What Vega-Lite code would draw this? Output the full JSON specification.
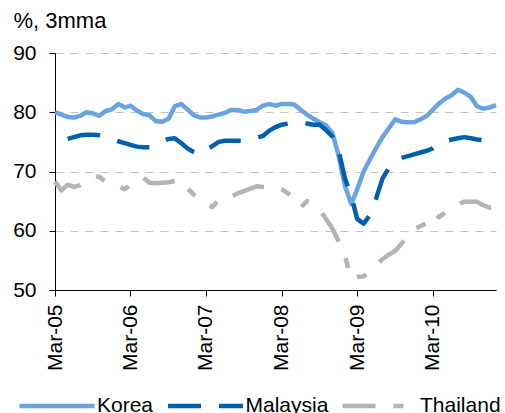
{
"$schema": "https://vega.github.io/schema/vega-lite/v6.json",
"width": 441, "height": 237,
"autosize": {"type": "none"},
"padding": {"left": 55, "top": 53, "right": 9, "bottom": 123},
"background": "white",
"config": {"view": {"stroke": null}, "font": "Liberation Sans"},
"data": {"values": [
{"d":"2005-03-01T00:00:00","c":"Korea","v":80.0},{"d":"2005-04-01T00:00:00","c":"Korea","v":79.6},{"d":"2005-05-01T00:00:00","c":"Korea","v":79.2},{"d":"2005-06-01T00:00:00","c":"Korea","v":79.1},{"d":"2005-07-01T00:00:00","c":"Korea","v":79.4},{"d":"2005-08-01T00:00:00","c":"Korea","v":80.0},{"d":"2005-09-01T00:00:00","c":"Korea","v":79.8},{"d":"2005-10-01T00:00:00","c":"Korea","v":79.4},{"d":"2005-11-01T00:00:00","c":"Korea","v":80.2},{"d":"2005-12-01T00:00:00","c":"Korea","v":80.5},
{"d":"2006-01-01T00:00:00","c":"Korea","v":81.4},{"d":"2006-02-01T00:00:00","c":"Korea","v":80.8},{"d":"2006-03-01T00:00:00","c":"Korea","v":81.1},{"d":"2006-04-01T00:00:00","c":"Korea","v":80.3},{"d":"2006-05-01T00:00:00","c":"Korea","v":79.7},{"d":"2006-06-01T00:00:00","c":"Korea","v":79.5},{"d":"2006-07-01T00:00:00","c":"Korea","v":78.5},{"d":"2006-08-01T00:00:00","c":"Korea","v":78.4},{"d":"2006-09-01T00:00:00","c":"Korea","v":78.9},{"d":"2006-10-01T00:00:00","c":"Korea","v":81.0},{"d":"2006-11-01T00:00:00","c":"Korea","v":81.4},{"d":"2006-12-01T00:00:00","c":"Korea","v":80.5},
{"d":"2007-01-01T00:00:00","c":"Korea","v":79.5},{"d":"2007-02-01T00:00:00","c":"Korea","v":79.1},{"d":"2007-03-01T00:00:00","c":"Korea","v":79.1},{"d":"2007-04-01T00:00:00","c":"Korea","v":79.3},{"d":"2007-05-01T00:00:00","c":"Korea","v":79.6},{"d":"2007-06-01T00:00:00","c":"Korea","v":79.9},{"d":"2007-07-01T00:00:00","c":"Korea","v":80.4},{"d":"2007-08-01T00:00:00","c":"Korea","v":80.4},{"d":"2007-09-01T00:00:00","c":"Korea","v":80.1},{"d":"2007-10-01T00:00:00","c":"Korea","v":80.2},{"d":"2007-11-01T00:00:00","c":"Korea","v":80.4},{"d":"2007-12-01T00:00:00","c":"Korea","v":81.1},
{"d":"2008-01-01T00:00:00","c":"Korea","v":81.4},{"d":"2008-02-01T00:00:00","c":"Korea","v":81.1},{"d":"2008-03-01T00:00:00","c":"Korea","v":81.4},{"d":"2008-04-01T00:00:00","c":"Korea","v":81.4},{"d":"2008-05-01T00:00:00","c":"Korea","v":81.3},{"d":"2008-06-01T00:00:00","c":"Korea","v":80.4},{"d":"2008-07-01T00:00:00","c":"Korea","v":79.6},{"d":"2008-08-01T00:00:00","c":"Korea","v":78.9},{"d":"2008-09-01T00:00:00","c":"Korea","v":78.3},{"d":"2008-10-01T00:00:00","c":"Korea","v":77.8},{"d":"2008-11-01T00:00:00","c":"Korea","v":76.5},{"d":"2008-12-01T00:00:00","c":"Korea","v":72.7},
{"d":"2009-01-01T00:00:00","c":"Korea","v":67.5},{"d":"2009-02-01T00:00:00","c":"Korea","v":64.5},{"d":"2009-03-01T00:00:00","c":"Korea","v":67.0},{"d":"2009-04-01T00:00:00","c":"Korea","v":70.0},{"d":"2009-05-01T00:00:00","c":"Korea","v":72.0},{"d":"2009-06-01T00:00:00","c":"Korea","v":74.0},{"d":"2009-07-01T00:00:00","c":"Korea","v":75.8},{"d":"2009-08-01T00:00:00","c":"Korea","v":77.3},{"d":"2009-09-01T00:00:00","c":"Korea","v":78.8},{"d":"2009-10-01T00:00:00","c":"Korea","v":78.4},{"d":"2009-11-01T00:00:00","c":"Korea","v":78.3},{"d":"2009-12-01T00:00:00","c":"Korea","v":78.3},
{"d":"2010-01-01T00:00:00","c":"Korea","v":78.8},{"d":"2010-02-01T00:00:00","c":"Korea","v":79.4},{"d":"2010-03-01T00:00:00","c":"Korea","v":80.4},{"d":"2010-04-01T00:00:00","c":"Korea","v":81.5},{"d":"2010-05-01T00:00:00","c":"Korea","v":82.3},{"d":"2010-06-01T00:00:00","c":"Korea","v":82.9},{"d":"2010-07-01T00:00:00","c":"Korea","v":83.8},{"d":"2010-08-01T00:00:00","c":"Korea","v":83.3},{"d":"2010-09-01T00:00:00","c":"Korea","v":82.6},{"d":"2010-10-01T00:00:00","c":"Korea","v":81.0},{"d":"2010-11-01T00:00:00","c":"Korea","v":80.6},{"d":"2010-12-01T00:00:00","c":"Korea","v":80.8},{"d":"2011-01-01T00:00:00","c":"Korea","v":81.2},

{"d":"2005-05-01T00:00:00","c":"Malaysia","v":75.5},{"d":"2005-06-01T00:00:00","c":"Malaysia","v":75.8},{"d":"2005-07-01T00:00:00","c":"Malaysia","v":76.1},{"d":"2005-08-01T00:00:00","c":"Malaysia","v":76.2},{"d":"2005-09-01T00:00:00","c":"Malaysia","v":76.2},{"d":"2005-10-01T00:00:00","c":"Malaysia","v":76.1},{"d":"2005-11-01T00:00:00","c":"Malaysia","v":75.8},{"d":"2005-12-01T00:00:00","c":"Malaysia","v":75.4},
{"d":"2006-01-01T00:00:00","c":"Malaysia","v":75.1},{"d":"2006-02-01T00:00:00","c":"Malaysia","v":74.8},{"d":"2006-03-01T00:00:00","c":"Malaysia","v":74.5},{"d":"2006-04-01T00:00:00","c":"Malaysia","v":74.2},{"d":"2006-05-01T00:00:00","c":"Malaysia","v":74.1},{"d":"2006-06-01T00:00:00","c":"Malaysia","v":74.1},{"d":"2006-07-01T00:00:00","c":"Malaysia","v":74.5},{"d":"2006-08-01T00:00:00","c":"Malaysia","v":75.1},{"d":"2006-09-01T00:00:00","c":"Malaysia","v":75.5},{"d":"2006-10-01T00:00:00","c":"Malaysia","v":75.6},{"d":"2006-11-01T00:00:00","c":"Malaysia","v":74.8},{"d":"2006-12-01T00:00:00","c":"Malaysia","v":73.9},
{"d":"2007-01-01T00:00:00","c":"Malaysia","v":73.3},{"d":"2007-02-01T00:00:00","c":"Malaysia","v":72.9},{"d":"2007-03-01T00:00:00","c":"Malaysia","v":73.6},{"d":"2007-04-01T00:00:00","c":"Malaysia","v":74.3},{"d":"2007-05-01T00:00:00","c":"Malaysia","v":75.0},{"d":"2007-06-01T00:00:00","c":"Malaysia","v":75.2},{"d":"2007-07-01T00:00:00","c":"Malaysia","v":75.2},{"d":"2007-08-01T00:00:00","c":"Malaysia","v":75.2},{"d":"2007-09-01T00:00:00","c":"Malaysia","v":75.2},{"d":"2007-10-01T00:00:00","c":"Malaysia","v":75.3},{"d":"2007-11-01T00:00:00","c":"Malaysia","v":75.7},{"d":"2007-12-01T00:00:00","c":"Malaysia","v":76.0},
{"d":"2008-01-01T00:00:00","c":"Malaysia","v":76.9},{"d":"2008-02-01T00:00:00","c":"Malaysia","v":77.5},{"d":"2008-03-01T00:00:00","c":"Malaysia","v":77.9},{"d":"2008-04-01T00:00:00","c":"Malaysia","v":78.1},{"d":"2008-05-01T00:00:00","c":"Malaysia","v":78.3},{"d":"2008-06-01T00:00:00","c":"Malaysia","v":78.3},{"d":"2008-07-01T00:00:00","c":"Malaysia","v":78.1},{"d":"2008-08-01T00:00:00","c":"Malaysia","v":77.9},{"d":"2008-09-01T00:00:00","c":"Malaysia","v":77.9},{"d":"2008-10-01T00:00:00","c":"Malaysia","v":77.0},{"d":"2008-11-01T00:00:00","c":"Malaysia","v":75.9},{"d":"2008-12-01T00:00:00","c":"Malaysia","v":73.5},
{"d":"2009-01-01T00:00:00","c":"Malaysia","v":68.8},{"d":"2009-02-01T00:00:00","c":"Malaysia","v":65.8},{"d":"2009-03-01T00:00:00","c":"Malaysia","v":62.0},{"d":"2009-04-01T00:00:00","c":"Malaysia","v":61.2},{"d":"2009-05-01T00:00:00","c":"Malaysia","v":62.6},{"d":"2009-06-01T00:00:00","c":"Malaysia","v":65.5},{"d":"2009-07-01T00:00:00","c":"Malaysia","v":68.8},{"d":"2009-08-01T00:00:00","c":"Malaysia","v":70.6},{"d":"2009-09-01T00:00:00","c":"Malaysia","v":71.6},{"d":"2009-10-01T00:00:00","c":"Malaysia","v":72.3},{"d":"2009-11-01T00:00:00","c":"Malaysia","v":72.6},{"d":"2009-12-01T00:00:00","c":"Malaysia","v":72.9},
{"d":"2010-01-01T00:00:00","c":"Malaysia","v":73.2},{"d":"2010-02-01T00:00:00","c":"Malaysia","v":73.5},{"d":"2010-03-01T00:00:00","c":"Malaysia","v":73.9},{"d":"2010-04-01T00:00:00","c":"Malaysia","v":74.7},{"d":"2010-05-01T00:00:00","c":"Malaysia","v":75.1},{"d":"2010-06-01T00:00:00","c":"Malaysia","v":75.4},{"d":"2010-07-01T00:00:00","c":"Malaysia","v":75.6},{"d":"2010-08-01T00:00:00","c":"Malaysia","v":75.8},{"d":"2010-09-01T00:00:00","c":"Malaysia","v":75.6},{"d":"2010-10-01T00:00:00","c":"Malaysia","v":75.4},{"d":"2010-11-01T00:00:00","c":"Malaysia","v":75.3},{"d":"2010-12-01T00:00:00","c":"Malaysia","v":75.3},

{"d":"2005-03-01T00:00:00","c":"Thailand","v":68.3},{"d":"2005-04-01T00:00:00","c":"Thailand","v":66.8},{"d":"2005-05-01T00:00:00","c":"Thailand","v":67.8},{"d":"2005-06-01T00:00:00","c":"Thailand","v":67.4},{"d":"2005-07-01T00:00:00","c":"Thailand","v":67.7},{"d":"2005-08-01T00:00:00","c":"Thailand","v":68.6},{"d":"2005-09-01T00:00:00","c":"Thailand","v":69.1},{"d":"2005-10-01T00:00:00","c":"Thailand","v":69.1},{"d":"2005-11-01T00:00:00","c":"Thailand","v":68.2},{"d":"2005-12-01T00:00:00","c":"Thailand","v":67.6},
{"d":"2006-01-01T00:00:00","c":"Thailand","v":67.6},{"d":"2006-02-01T00:00:00","c":"Thailand","v":67.0},{"d":"2006-03-01T00:00:00","c":"Thailand","v":67.8},{"d":"2006-04-01T00:00:00","c":"Thailand","v":68.0},{"d":"2006-05-01T00:00:00","c":"Thailand","v":69.0},{"d":"2006-06-01T00:00:00","c":"Thailand","v":68.1},{"d":"2006-07-01T00:00:00","c":"Thailand","v":68.0},{"d":"2006-08-01T00:00:00","c":"Thailand","v":68.1},{"d":"2006-09-01T00:00:00","c":"Thailand","v":68.2},{"d":"2006-10-01T00:00:00","c":"Thailand","v":68.4},{"d":"2006-11-01T00:00:00","c":"Thailand","v":68.6},{"d":"2006-12-01T00:00:00","c":"Thailand","v":67.2},
{"d":"2007-01-01T00:00:00","c":"Thailand","v":66.1},{"d":"2007-02-01T00:00:00","c":"Thailand","v":64.9},{"d":"2007-03-01T00:00:00","c":"Thailand","v":64.6},{"d":"2007-04-01T00:00:00","c":"Thailand","v":64.0},{"d":"2007-05-01T00:00:00","c":"Thailand","v":65.2},{"d":"2007-06-01T00:00:00","c":"Thailand","v":65.1},{"d":"2007-07-01T00:00:00","c":"Thailand","v":65.8},{"d":"2007-08-01T00:00:00","c":"Thailand","v":66.3},{"d":"2007-09-01T00:00:00","c":"Thailand","v":66.7},{"d":"2007-10-01T00:00:00","c":"Thailand","v":67.1},{"d":"2007-11-01T00:00:00","c":"Thailand","v":67.5},{"d":"2007-12-01T00:00:00","c":"Thailand","v":67.4},
{"d":"2008-01-01T00:00:00","c":"Thailand","v":67.3},{"d":"2008-02-01T00:00:00","c":"Thailand","v":67.0},{"d":"2008-03-01T00:00:00","c":"Thailand","v":67.0},{"d":"2008-04-01T00:00:00","c":"Thailand","v":66.3},{"d":"2008-05-01T00:00:00","c":"Thailand","v":65.4},{"d":"2008-06-01T00:00:00","c":"Thailand","v":63.9},{"d":"2008-07-01T00:00:00","c":"Thailand","v":65.0},{"d":"2008-08-01T00:00:00","c":"Thailand","v":64.7},{"d":"2008-09-01T00:00:00","c":"Thailand","v":63.5},{"d":"2008-10-01T00:00:00","c":"Thailand","v":62.0},{"d":"2008-11-01T00:00:00","c":"Thailand","v":60.4},{"d":"2008-12-01T00:00:00","c":"Thailand","v":58.2},
{"d":"2009-01-01T00:00:00","c":"Thailand","v":55.7},{"d":"2009-02-01T00:00:00","c":"Thailand","v":51.8},{"d":"2009-03-01T00:00:00","c":"Thailand","v":52.2},{"d":"2009-04-01T00:00:00","c":"Thailand","v":52.3},{"d":"2009-05-01T00:00:00","c":"Thailand","v":53.0},{"d":"2009-06-01T00:00:00","c":"Thailand","v":54.2},{"d":"2009-07-01T00:00:00","c":"Thailand","v":55.2},{"d":"2009-08-01T00:00:00","c":"Thailand","v":56.0},{"d":"2009-09-01T00:00:00","c":"Thailand","v":56.6},{"d":"2009-10-01T00:00:00","c":"Thailand","v":57.8},{"d":"2009-11-01T00:00:00","c":"Thailand","v":59.3},{"d":"2009-12-01T00:00:00","c":"Thailand","v":60.3},
{"d":"2010-01-01T00:00:00","c":"Thailand","v":60.8},{"d":"2010-02-01T00:00:00","c":"Thailand","v":61.3},{"d":"2010-03-01T00:00:00","c":"Thailand","v":63.0},{"d":"2010-04-01T00:00:00","c":"Thailand","v":62.3},{"d":"2010-05-01T00:00:00","c":"Thailand","v":63.1},{"d":"2010-06-01T00:00:00","c":"Thailand","v":64.0},{"d":"2010-07-01T00:00:00","c":"Thailand","v":64.5},{"d":"2010-08-01T00:00:00","c":"Thailand","v":64.9},{"d":"2010-09-01T00:00:00","c":"Thailand","v":64.9},{"d":"2010-10-01T00:00:00","c":"Thailand","v":64.9},{"d":"2010-11-01T00:00:00","c":"Thailand","v":64.3},{"d":"2010-12-01T00:00:00","c":"Thailand","v":63.9},{"d":"2011-01-01T00:00:00","c":"Thailand","v":64.1}
]},
"mark": {"type": "line", "strokeWidth": 4.5, "strokeCap": "butt", "strokeJoin": "round"},
"encoding": {
"x": {"field": "d", "type": "temporal",
 "scale": {"domain": [{"year": 2005, "month": 3, "date": 1}, {"year": 2011, "month": 1, "date": 1}]},
 "axis": {"values": [{"year": 2005, "month": 3, "date": 1}, {"year": 2006, "month": 3, "date": 1}, {"year": 2007, "month": 3, "date": 1}, {"year": 2008, "month": 3, "date": 1}, {"year": 2009, "month": 3, "date": 1}, {"year": 2010, "month": 3, "date": 1}],
  "format": "%b-%y", "labelAngle": -90, "labelAlign": "right", "labelBaseline": "middle", "labelFontSize": 21, "labelFont": "Liberation Sans", "labelColor": "black", "labelPadding": 8, "labelFlush": false, "labelOverlap": false, "tickSize": 6, "tickColor": "black", "domainColor": "black", "grid": false, "title": null}},
"y": {"field": "v", "type": "quantitative",
 "scale": {"domain": [50, 90], "nice": false, "zero": false},
 "axis": {"values": [50, 60, 70, 80, 90], "grid": true, "gridColor": "#C4C4C4", "gridDash": [8, 7], "gridWidth": 1,
  "tickSize": 6, "tickColor": "black", "domainColor": "black", "labelFontSize": 21, "labelFont": "Liberation Sans", "labelColor": "black", "labelPadding": 13,
  "title": "%, 3mma", "titleAngle": 0, "titleX": -42, "titleY": -26, "titleAlign": "left", "titleBaseline": "alphabetic", "titleFontSize": 22, "titleFontWeight": "normal", "titleColor": "black", "titleFont": "Liberation Sans"}},
"color": {"field": "c", "type": "nominal",
 "scale": {"domain": ["Korea", "Malaysia", "Thailand"], "range": ["#68A4E3", "#0060B0", "#B4B4B4"]},
 "legend": {"orient": "none", "legendX": -38, "legendY": 313, "direction": "horizontal", "gridAlign": "each", "title": null, "symbolType": "stroke", "symbolSize": 5625, "symbolStrokeWidth": 4.5, "labelFontSize": 21, "labelFont": "Liberation Sans", "labelColor": "black", "labelOffset": 0, "columnPadding": 4.5}},
"strokeDash": {"field": "c", "type": "nominal",
 "scale": {"domain": ["Korea", "Malaysia", "Thailand"], "range": [[1, 0], [33, 18], [33, 18, 10, 18, 10, 18]]},
 "legend": {"orient": "none", "legendX": -38, "legendY": 313, "direction": "horizontal", "gridAlign": "each", "title": null, "symbolType": "stroke", "symbolSize": 5625, "symbolStrokeWidth": 4.5, "labelFontSize": 21, "labelFont": "Liberation Sans", "labelColor": "black", "labelOffset": 0, "columnPadding": 4.5}}
}
}
